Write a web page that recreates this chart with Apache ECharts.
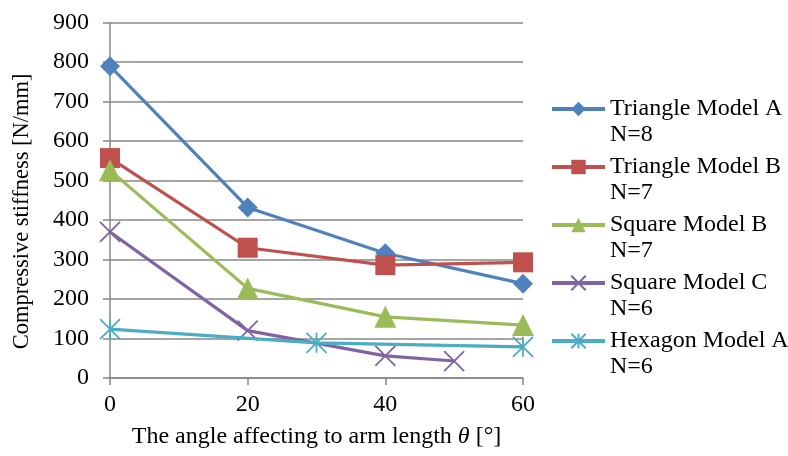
<!DOCTYPE html>
<html><head><meta charset="utf-8">
<script src="https://cdn.jsdelivr.net/npm/echarts@6/dist/echarts.min.js"></script>
<style>html,body{margin:0;padding:0;background:#fff}#c{width:788px;height:456px}</style>
</head><body><div id="c"></div>
<script>
const seriesNames = ['Triangle Model A\nN=8','Triangle Model B\nN=7','Square Model B\nN=7','Square Model C\nN=6','Hexagon Model A\nN=6'];
const triAX = [0,20,40,60];   const triAY = [790,432,316,239];
const triBX = [0,20,40,60];   const triBY = [557,330,286,293];
const sqBX  = [0,20,40,60];   const sqBY  = [526,227,155,134];
const sqCX  = [0,20,40,50];   const sqCY  = [370,120,56,43];
const hexX  = [0,30,60];      const hexY  = [124,89,79];
const xTicks = [0,20,40,60];
const yTicks = [0,100,200,300,400,500,600,700,800,900];

const colors = ['#4F81BD','#C0504D','#9BBB59','#8064A2','#4BACC6'];
const xs = [triAX,triBX,sqBX,sqCX,hexX], ys=[triAY,triBY,sqBY,sqCY,hexY];
const symbols = ['diamond','rect','triangle','path://M0,0L10,10M10,0L0,10','path://M0,0L10,10M10,0L0,10M5,0L5,10'];
const sizes = [20,20,22,20,20];
const font = 'Liberation Serif';
const gray = '#878787';

const series = seriesNames.map((n,i)=>({
  name:n, type:'line', data: xs[i].map((x,j)=>[x, ys[i][j]]),
  symbol: symbols[i], symbolSize: sizes[i],
  showAllSymbol:true,
  lineStyle:{color:colors[i], width:3.2},
  itemStyle:{color: i>=3 ? 'none' : colors[i], borderColor: colors[i], borderWidth: i>=3?1.8:0, opacity:1},
  emphasis:{disabled:true}, animation:false, z: 2+i
}));

const chart = echarts.init(document.getElementById('c'));
chart.setOption({
  animation:false,
  textStyle:{fontFamily:font},
  grid:{left:110, right:265, top:22.7, bottom:78, containLabel:false},
  xAxis:{type:'value', min:xTicks[0], max:xTicks[xTicks.length-1], interval:20,
    name:'The angle affecting to arm length {i|θ} [°]', nameLocation:'middle', nameGap:47,
    nameTextStyle:{fontFamily:font, fontSize:24, color:'#000', rich:{i:{fontFamily:font,fontSize:24,fontStyle:'italic',color:'#000'}}},
    axisLine:{lineStyle:{color:gray, width:1.5}},
    axisTick:{show:true, length:7, lineStyle:{color:gray,width:1.5}},
    axisLabel:{fontFamily:font, fontSize:24, color:'#000', margin:15},
    splitLine:{show:false}},
  yAxis:{type:'value', min:yTicks[0], max:yTicks[yTicks.length-1], interval:100,
    name:'Compressive stiffness [N/mm]', nameLocation:'middle', nameGap:76,
    nameTextStyle:{fontFamily:font, fontSize:22.5, color:'#000', padding:[0,22,0,0]},
    axisLine:{show:true, lineStyle:{color:gray, width:1.5}},
    axisTick:{show:true, length:7, lineStyle:{color:gray,width:1.5}},
    axisLabel:{fontFamily:font, fontSize:24, color:'#000', margin:21},
    splitLine:{show:true, lineStyle:{color:gray, width:1.5}}},
  legend:{orient:'vertical', left:545, top:65, itemWidth:53, itemHeight:18, itemGap:-20,
    data: seriesNames.map((n,i)=>({name:n, lineStyle:{width:4, color:colors[i]}})),
    lineStyle:{width:4},
    formatter: n => '\n' + n,
    textStyle:{fontFamily:font, fontSize:24, color:'#000', lineHeight:26}},
  series
});
</script></body></html>
